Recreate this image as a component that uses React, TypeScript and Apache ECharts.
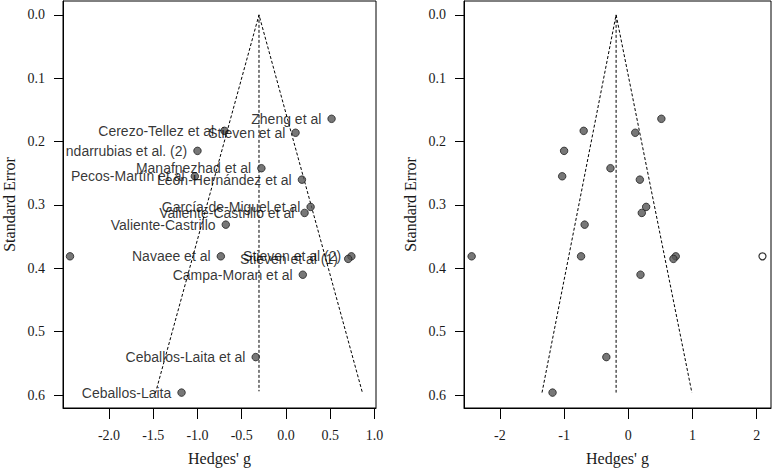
import React, { useEffect, useRef } from "react";
import * as echarts from "echarts";

// Study labels (as visible in the left panel; one label is clipped by the plot box, one is fully outside)
const studyNames = [
  "Zheng et al",
  "Cerezo-Tellez et al",
  "Stieven et al",
  "ndarrubias et al. (2)",
  "Manafnezhad et al",
  "Pecos-Martín et al",
  "León-Hernández et al",
  "García-de-Miguel et al",
  "Valiente-Castrillo et al",
  "Valiente-Castrillo",
  "",
  "Navaee et al",
  "Stieven et al (2)",
  "Stieven et al (1)",
  "Campa-Moran et al",
  "Ceballos-Laita et al",
  "Ceballos-Laita",
];
const hedgesG = [0.515, -0.695, 0.108, -1.0, -0.278, -1.03, 0.18, 0.278, 0.21, -0.68, -2.44, -0.736, 0.739, 0.703, 0.19, -0.342, -1.18];
const stdErr = [0.164, 0.183, 0.186, 0.2146, 0.242, 0.2547, 0.26, 0.303, 0.3125, 0.331, 0.381, 0.381, 0.381, 0.385, 0.41, 0.54, 0.596];

// Imputed (trim-and-fill) study in the right panel
const imputedG = [2.09];
const imputedSE = [0.381];

// Funnel outlines: [g, SE]
const leftFunnel = [[-1.475, 0.597], [-0.305, 0], [0.865, 0.597]];
const leftCenter = [[-0.305, 0], [-0.305, 0.594]];
const rightFunnel = [[-1.344, 0.596], [-0.19, 0], [0.99, 0.596]];
const rightCenter = [[-0.19, 0], [-0.19, 0.596]];

// Tick values
const seTicks = [0, 0.1, 0.2, 0.3, 0.4, 0.5, 0.6];
const leftGTicks = [-2, -1.5, -1, -0.5, 0, 0.5, 1];
const rightGTicks = [-2, -1, 0, 1, 2];

const SERIF = "'Liberation Serif', 'DejaVu Serif', serif";
const SANS = "'Liberation Sans', Arial, sans-serif";

export default function App() {
  const ref = useRef<HTMLDivElement>(null);

  useEffect(() => {
    if (!ref.current) return;
    const chart = echarts.init(ref.current, undefined, { renderer: "svg" });

    const yAxisBase = (gridIndex: number) => ({
      type: "value",
      gridIndex,
      inverse: true,
      min: -14 / 640,
      max: 397 / 640,
      name: "Standard Error",
      nameLocation: "middle",
      nameGap: 46,
      nameTextStyle: { fontFamily: SERIF, fontSize: 16, color: "#1a1a1a" },
      axisLine: { show: true, onZero: false, lineStyle: { color: "#000", width: 1 } },
      splitLine: { show: false },
      axisTick: {
        show: true,
        inside: false,
        length: 9,
        customValues: seTicks,
        lineStyle: { color: "#000", width: 1 },
      },
      axisLabel: {
        customValues: seTicks,
        formatter: (v: number) => v.toFixed(1),
        margin: 18,
        fontFamily: SERIF,
        fontSize: 14,
        color: "#1a1a1a",
      },
    });

    const xAxisBase = (gridIndex: number, min: number, max: number, ticks: number[], digits: number) => ({
      type: "value",
      gridIndex,
      min,
      max,
      name: "Hedges' g",
      nameLocation: "middle",
      nameGap: 42,
      nameTextStyle: { fontFamily: SERIF, fontSize: 16, color: "#1a1a1a" },
      axisLine: { show: true, onZero: false, lineStyle: { color: "#000", width: 1 } },
      splitLine: { show: false },
      axisTick: {
        show: true,
        inside: false,
        length: 11,
        customValues: ticks,
        lineStyle: { color: "#000", width: 1 },
      },
      axisLabel: {
        customValues: ticks,
        formatter: (v: number) => v.toFixed(digits),
        margin: 20,
        fontFamily: SERIF,
        fontSize: 14,
        color: "#1a1a1a",
      },
    });

    const dashed = { color: "#000", width: 1, type: [3, 2] as number[] };

    const leftPoints = hedgesG.map((g, i) => ({ value: [g, stdErr[i]], name: studyNames[i] }));
    const rightPoints = hedgesG.map((g, i) => [g, stdErr[i]]);
    const imputedPoints = imputedG.map((g, i) => [g, imputedSE[i]]);

    const pointStyle = { color: "#555", borderColor: "#222", borderWidth: 1 };

    chart.setOption({
      animation: false,
      backgroundColor: "#fff",
      grid: [
        { left: 62, top: 1, width: 314, height: 411, show: true, borderColor: "#000", borderWidth: 1, backgroundColor: "transparent" },
        { left: 464, top: 1, width: 307, height: 411, show: true, borderColor: "#000", borderWidth: 1, backgroundColor: "transparent" },
      ],
      xAxis: [
        xAxisBase(0, (62 - 285.7) / 88.8, (376 - 285.7) / 88.8, leftGTicks, 1),
        xAxisBase(1, (464 - 628.3) / 64.2, (771 - 628.3) / 64.2, rightGTicks, 0),
      ],
      yAxis: [yAxisBase(0), yAxisBase(1)],
      series: [
        { type: "line", xAxisIndex: 0, yAxisIndex: 0, data: leftFunnel, symbol: "none", lineStyle: dashed, z: 1 },
        { type: "line", xAxisIndex: 0, yAxisIndex: 0, data: leftCenter, symbol: "none", lineStyle: dashed, z: 1 },
        { type: "line", xAxisIndex: 1, yAxisIndex: 1, data: rightFunnel, symbol: "none", lineStyle: dashed, z: 1 },
        { type: "line", xAxisIndex: 1, yAxisIndex: 1, data: rightCenter, symbol: "none", lineStyle: dashed, z: 1 },
        {
          type: "scatter",
          xAxisIndex: 0,
          yAxisIndex: 0,
          data: leftPoints,
          symbol: "circle",
          symbolSize: 7.5,
          itemStyle: pointStyle,
          z: 3,
          label: {
            show: true,
            position: "left",
            distance: 6,
            formatter: (p: any) => p.name,
            fontFamily: SANS,
            fontSize: 14,
            color: "#000",
          },
        },
        {
          type: "scatter",
          xAxisIndex: 1,
          yAxisIndex: 1,
          data: rightPoints,
          symbol: "circle",
          symbolSize: 7.5,
          itemStyle: pointStyle,
          z: 3,
        },
        {
          type: "scatter",
          xAxisIndex: 1,
          yAxisIndex: 1,
          data: imputedPoints,
          symbol: "circle",
          symbolSize: 7,
          itemStyle: { color: "#fff", borderColor: "#000", borderWidth: 1.2 },
          z: 3,
        },
      ],
    });

    return () => chart.dispose();
  }, []);

  return (
    <div
      ref={ref}
      style={{ position: "absolute", left: 0, top: 0, width: 777, height: 471, background: "#fff" }}
    />
  );
}
